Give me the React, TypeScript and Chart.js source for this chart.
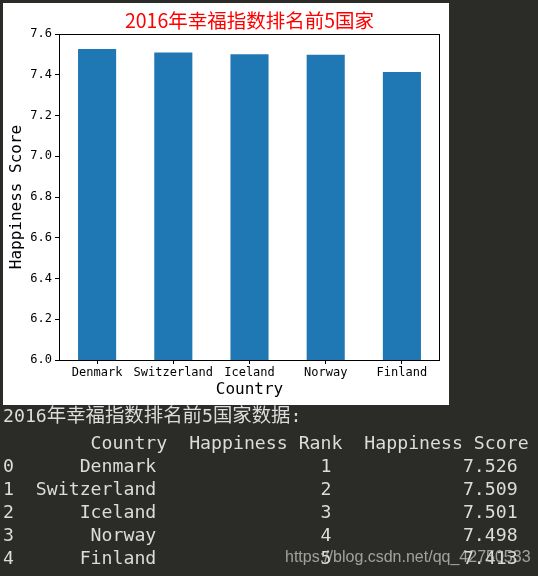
import React, { useEffect, useRef } from "react";
import { Chart, registerables } from "chart.js";

Chart.register(...registerables);

const categories = ["Denmark", "Switzerland", "Iceland", "Norway", "Finland"];
const scores = [7.526, 7.509, 7.501, 7.498, 7.413];
const ranks = [1, 2, 3, 4, 5];
const yTicks = [6.0, 6.2, 6.4, 6.6, 6.8, 7.0, 7.2, 7.4, 7.6];
const chartTitle = "2016年幸福指数排名前5国家";
const xTitle = "Country";
const yTitle = "Happiness Score";
const tableColumns = ["Country", "Happiness Rank", "Happiness Score"];
const watermark = "https://blog.csdn.net/qq_42750533";

const MONO = "'DejaVu Sans Mono', 'Noto Sans CJK SC', monospace";

const headerLine =
  " " +
  tableColumns[0].padStart(14) +
  tableColumns[1].padStart(16) +
  tableColumns[2].padStart(17);
const rowLines = categories.map(
  (c, i) =>
    String(i) +
    c.padStart(13) +
    String(ranks[i]).padStart(16) +
    scores[i].toFixed(3).padStart(17)
);

const framePlugin = {
  id: "frame",
  afterDatasetsDraw(chart: any) {
    const { ctx, chartArea } = chart;
    const { left, top, right, bottom } = chartArea;
    ctx.save();
    ctx.strokeStyle = "#000";
    ctx.lineWidth = 1;
    ctx.strokeRect(
      Math.round(left) + 0.5,
      Math.round(top) + 0.5,
      Math.round(right - left) - 1,
      Math.round(bottom - top)
    );
    ctx.restore();
  },
};

const titlePlugin = {
  id: "redTitle",
  afterDraw(chart: any) {
    const { ctx, chartArea } = chart;
    ctx.save();
    ctx.fillStyle = "#ff0000";
    ctx.font = "19.5px 'Noto Sans CJK SC', sans-serif";
    ctx.textAlign = "center";
    ctx.textBaseline = "middle";
    ctx.fillText(chartTitle, (chartArea.left + chartArea.right) / 2, 18);
    ctx.restore();
  },
};

export default function App() {
  const ref = useRef<HTMLCanvasElement | null>(null);

  useEffect(() => {
    if (!ref.current) return;
    const tickFont = { family: MONO, size: 12 };
    const titleFont = { family: MONO, size: 16 };
    const chart = new Chart(ref.current, {
      type: "bar",
      data: {
        labels: categories,
        datasets: [
          {
            data: scores,
            backgroundColor: "#1f77b4",
            barPercentage: 0.5,
            categoryPercentage: 1.0,
          },
        ],
      },
      options: {
        animation: false,
        responsive: true,
        maintainAspectRatio: false,
        layout: { padding: { left: 0, right: 9, top: 31, bottom: 0 } },
        plugins: {
          legend: { display: false },
          title: { display: false },
          tooltip: { enabled: false },
        },
        scales: {
          x: {
            grid: {
              display: true,
              drawOnChartArea: false,
              drawTicks: true,
              tickLength: 4,
              color: "#000",
              offset: false,
            },
            border: { display: false },
            ticks: {
              color: "#000",
              font: tickFont,
              padding: 2,
              maxRotation: 0,
              autoSkip: false,
            },
            title: {
              display: true,
              text: xTitle,
              color: "#000",
              font: titleFont,
              padding: { top: 0, bottom: 6 },
            },
            afterFit: (s: any) => {
              s.height = 45;
            },
          },
          y: {
            min: 6,
            max: 7.6,
            afterBuildTicks: (s: any) => {
              s.ticks = yTicks.map((v) => ({ value: v }));
            },
            grid: {
              display: true,
              drawOnChartArea: false,
              drawTicks: true,
              tickLength: 4,
              color: "#000",
            },
            border: { display: false },
            ticks: {
              color: "#000",
              font: tickFont,
              padding: 3,
              callback: (v: any) => Number(v).toFixed(1),
            },
            title: {
              display: true,
              text: yTitle,
              color: "#000",
              font: titleFont,
              padding: { top: 4, bottom: 0 },
            },
            afterFit: (s: any) => {
              s.width = 56;
            },
          },
        },
      },
      plugins: [framePlugin, titlePlugin],
    } as any);
    return () => chart.destroy();
  }, []);

  return (
    <div
      style={{
        position: "fixed",
        left: 0,
        top: 0,
        right: 0,
        bottom: 0,
        background: "#2b2b27",
        overflow: "hidden",
      }}
    >
      <div
        style={{
          position: "absolute",
          left: 3,
          top: 3,
          width: 446,
          height: 402,
          background: "#ffffff",
        }}
      >
        <canvas ref={ref} />
      </div>
      <div
        style={{
          position: "absolute",
          left: 3,
          top: 404,
          fontFamily: MONO,
          fontSize: "18.2px",
          lineHeight: "23px",
          color: "#dcdcdc",
          whiteSpace: "pre",
        }}
      >
        2016<span style={{ fontSize: "19.4px" }}>年幸福指数排名前</span>5
        <span style={{ fontSize: "19.4px" }}>国家数据</span>:
      </div>
      <pre
        style={{
          position: "absolute",
          left: 3,
          top: 431,
          margin: 0,
          fontFamily: MONO,
          fontSize: "18.2px",
          lineHeight: "23px",
          color: "#dcdcdc",
        }}
      >
        {[headerLine, ...rowLines].join("\n")}
      </pre>
      <div
        style={{
          position: "absolute",
          left: 285,
          top: 547,
          fontFamily: "'Liberation Sans', Arial, sans-serif",
          fontSize: "16px",
          lineHeight: "20px",
          color: "rgba(200,200,200,0.75)",
          whiteSpace: "pre",
        }}
      >
        {watermark}
      </div>
    </div>
  );
}
